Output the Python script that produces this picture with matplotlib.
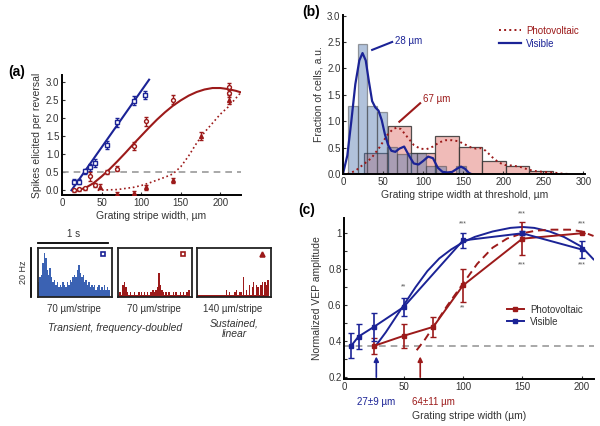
import numpy as np
import matplotlib
matplotlib.use("Agg")
import matplotlib.pyplot as plt
from matplotlib.lines import Line2D

plt.rcParams['font.family'] = ['Liberation Sans', 'DejaVu Sans']
plt.rcParams['font.size'] = 7
plt.rcParams['text.color'] = '#333333'
plt.rcParams['axes.labelcolor'] = '#333333'
plt.rcParams['xtick.color'] = '#333333'
plt.rcParams['ytick.color'] = '#333333'

AZUL = '#1b2396'
ROJO = '#9c1a1a'
GRIS = '#999999'

# ---------- datos panel (a) ----------
vis_x = [15, 21.5, 28.7, 35.4, 41.8, 56.5, 70, 91, 105]
vis_y = [0.24, 0.24, 0.52, 0.63, 0.75, 1.25, 1.87, 2.47, 2.63]
vis_err = [0.08, 0.08, 0.08, 0.1, 0.1, 0.1, 0.12, 0.12, 0.12]

pv_x = [15, 22, 29, 35.4, 41.8, 56.5, 70, 91, 106, 140, 211, 211]
pv_y = [0.0, 0.03, 0.05, 0.38, 0.15, 0.5, 0.6, 1.22, 1.9, 2.5, 2.68, 2.86]
pv_err = [0.04, 0.04, 0.05, 0.12, 0.06, 0.06, 0.08, 0.1, 0.12, 0.12, 0.12, 0.1]

sus_x = [48, 70, 91, 106, 140, 176, 211]
sus_y = [0.1, -0.1, -0.08, 0.08, 0.27, 1.5, 2.5]
sus_err = [0.06, 0.05, 0.05, 0.06, 0.08, 0.12, 0.12]

fit_vis_x = [12, 110]
fit_vis_y = [0.0, 3.05]
fit_pv_x = [20, 30, 40, 50, 60, 70, 80, 90, 100, 110, 120, 130, 140, 150, 160,
            170, 180, 190, 200, 210, 220, 226]
fit_pv_y = [0, 0.07, 0.2, 0.38, 0.58, 0.8, 1.03, 1.27, 1.5, 1.73, 1.95, 2.15,
            2.33, 2.48, 2.61, 2.71, 2.78, 2.82, 2.82, 2.79, 2.74, 2.7]
fit_sus_x = [45, 70, 90, 100, 110, 120, 130, 140, 150, 160, 170, 180, 190, 200,
             210, 220, 226]
fit_sus_y = [0, 0.02, 0.08, 0.13, 0.2, 0.28, 0.36, 0.45, 0.65, 0.95, 1.3, 1.6,
             1.85, 2.1, 2.3, 2.55, 2.7]

# PSTH (Hz), bins de 20 ms
psth_azul = [6, 8, 9, 14, 18, 16, 11, 9, 12, 8, 6, 7, 5, 6, 4, 5, 4, 6, 5, 4,
             6, 5, 7, 6, 8, 9, 8, 11, 13, 10, 8, 9, 6, 7, 5, 6, 4, 5, 4, 5,
             3, 4, 5, 3, 4, 3, 5, 3, 4, 3]
psth_rojo = [1, 2, 1, 5, 6, 4, 2, 1, 2, 1, 1, 2, 1, 1, 2, 1, 2, 1, 2, 1,
             2, 1, 2, 2, 3, 2, 3, 4, 10, 5, 3, 2, 1, 2, 1, 2, 1, 1, 2, 1,
             2, 1, 1, 2, 1, 2, 1, 2, 2, 3]
psth_sost = [3, 1, 1, 1, 1, 1, 1, 1, 1, 1, 1, 1, 1, 1, 1, 1, 1, 1, 1, 1,
             3, 1, 2, 1, 1, 1, 2, 3, 1, 2, 2, 1, 8, 1, 3, 1, 5, 1, 4, 6,
             1, 5, 4, 1, 5, 6, 1, 6, 5, 7]

# ---------- datos panel (b) ----------
hist_vis_izq = 5.5
hist_vis_ancho = 12.3
hist_vis = [1.29, 2.47, 1.29, 1.18, 0.52, 0.38, 0.4, 0.4, 0.15, 0.15, 0.0, 0.15]
hist_pv_izq = 26
hist_pv_ancho = 29.5
hist_pv = [0.4, 0.91, 0.4, 0.72, 0.51, 0.24, 0.15, 0.06]

kde_vis_x = [0, 5, 10, 15, 20, 24, 28, 32, 36, 40, 44, 48, 52, 56, 60, 65, 70,
             76, 82, 88, 94, 100, 106, 112, 118, 124, 130, 136, 142, 147, 152,
             157, 160]
kde_vis_y = [0.03, 0.35, 1.0, 1.7, 2.15, 2.29, 2.15, 1.75, 1.38, 1.26, 1.2,
             1.02, 0.75, 0.55, 0.44, 0.42, 0.48, 0.52, 0.35, 0.2, 0.18, 0.25,
             0.33, 0.3, 0.12, 0.04, 0.03, 0.04, 0.1, 0.14, 0.1, 0.02, 0.0]
kde_pv_x = [5, 15, 25, 35, 45, 55, 62, 67, 72, 80, 88, 96, 104, 112, 120, 128,
            136, 144, 152, 160, 166, 172, 178, 186, 194, 202, 212, 222, 232,
            242, 252, 262, 272, 282]
kde_pv_y = [0, 0.06, 0.18, 0.3, 0.5, 0.74, 0.85, 0.88, 0.85, 0.7, 0.55, 0.48,
            0.47, 0.52, 0.6, 0.64, 0.64, 0.62, 0.56, 0.5, 0.48, 0.49, 0.44,
            0.32, 0.22, 0.17, 0.16, 0.13, 0.08, 0.05, 0.04, 0.03, 0.01, 0]

# ---------- datos panel (c) ----------
vep_vis_x = [6, 12, 25, 50, 100, 150, 200]
vep_vis_y = [0.376, 0.426, 0.48, 0.59, 0.96, 1.0, 0.91]
vep_vis_err = [0.07, 0.07, 0.076, 0.05, 0.04, 0.01, 0.045]
vep_pv_x = [25, 50, 75, 100, 150, 200]
vep_pv_y = [0.374, 0.43, 0.48, 0.71, 0.97, 1.0]
vep_pv_err = [0.045, 0.065, 0.055, 0.09, 0.09, 0.0]

vep_fit_vis_x = [26, 35, 45, 50, 60, 70, 80, 90, 100, 110, 125, 140, 150, 160,
                 173, 185, 200, 210]
vep_fit_vis_y = [0.37, 0.45, 0.55, 0.6, 0.7, 0.79, 0.86, 0.91, 0.95, 0.98,
                 1.01, 1.03, 1.035, 1.03, 1.01, 0.98, 0.925, 0.855]
vep_fit_pv_x = [61, 68, 75, 87, 100, 112, 125, 137, 150, 162, 175, 190, 200, 210]
vep_fit_pv_y = [0.35, 0.41, 0.48, 0.6, 0.72, 0.83, 0.92, 0.97, 1.0, 1.015,
                1.02, 1.02, 1.01, 0.985]
umbral_vep = 0.374
umbral_vis = 27
umbral_pv = 64


def estilo(ax):
    for s in ['top', 'right']:
        ax.spines[s].set_visible(False)
    for s in ['left', 'bottom']:
        ax.spines[s].set_linewidth(1.4)
        ax.spines[s].set_color('black')
    ax.tick_params(direction='in', length=2.5, width=0.8, labelsize=7, pad=2)


fig = plt.figure(figsize=(6, 4.26), dpi=100)

# ===== (a) curvas =====
ax_a = fig.add_axes([0.1033, 0.5423, 0.2983, 0.2817])
estilo(ax_a)
ax_a.axhline(0.5, color=GRIS, lw=1.2, ls=(0, (4, 3)))
ax_a.plot(fit_vis_x, fit_vis_y, color=AZUL, lw=1.5)
ax_a.plot(fit_pv_x, fit_pv_y, color=ROJO, lw=1.5)
ax_a.plot(fit_sus_x, fit_sus_y, color=ROJO, lw=1.2, ls=':')
ax_a.errorbar(vis_x, vis_y, yerr=vis_err, fmt='s', ms=2.8, mfc='white', mec=AZUL,
              mew=1.0, ecolor=AZUL, elinewidth=1.0, capsize=1.2, zorder=3)
ax_a.errorbar(pv_x, pv_y, yerr=pv_err, fmt='o', ms=2.8, mfc='white', mec=ROJO,
              mew=1.0, ecolor=ROJO, elinewidth=1.0, capsize=1.2, zorder=3)
ax_a.errorbar(sus_x, sus_y, yerr=sus_err, fmt='^', ms=2.8, mfc=ROJO, mec=ROJO,
              mew=1.0, ecolor=ROJO, elinewidth=1.0, capsize=1.2, zorder=3)
ax_a.set_xlim(0, 226)
ax_a.set_ylim(-0.13, 3.18)
ax_a.set_xticks([0, 50, 100, 150, 200])
ax_a.set_yticks(np.arange(0, 3.01, 0.5))
ax_a.set_yticklabels([f"{v:.1f}" for v in np.arange(0, 3.01, 0.5)])
ax_a.set_xlabel("Grating stripe width, µm", fontsize=7.5, labelpad=2)
ax_a.set_ylabel("Spikes elicited per reversal", fontsize=7.5, labelpad=3)

# ===== (a) PSTH =====
t = np.arange(len(psth_azul)) * 0.02
cajas = [
    (0.0633, psth_azul, '#3b62b3', 's', 'white', AZUL, "70 µm/stripe"),
    (0.1967, psth_rojo, ROJO, 's', 'white', ROJO, "70 µm/stripe"),
    (0.3283, psth_sost, ROJO, '^', ROJO, ROJO, "140 µm/stripe"),
]
for i, (x0, datos, col, mk, mfc, mec, etiqueta) in enumerate(cajas):
    axp = fig.add_axes([x0, 0.3028, 0.1233, 0.115])
    axp.bar(t, datos, width=0.02, align='edge', color=col, lw=0)
    axp.set_xlim(0, 1.03)
    axp.set_ylim(0, 20)
    axp.set_xticks([])
    axp.set_yticks([])
    for s in axp.spines.values():
        s.set_linewidth(1.3)
        s.set_color('#222222')
    axp.plot([0.91], [17.4], marker=mk, ms=3.5, mfc=mfc, mec=mec, mew=1.2)
    axp.text(0.5, -2.8, etiqueta, ha='center', va='top', fontsize=7)
    if i == 0:
        axp.plot([0, 0.98], [22, 22], color='black', lw=1.3, clip_on=False)
        axp.text(0.49, 23.5, "1 s", ha='center', va='bottom', fontsize=7)
        axp.plot([-0.097, -0.097], [0, 20], color='black', lw=1.3, clip_on=False)
        axp.text(-0.2, 10, "20 Hz", rotation=90, ha='center', va='center',
                 fontsize=6.5)

fig.text(115 / 600, 1 - 328 / 426, "Transient, frequency-doubled",
         ha='center', va='center', style='italic', fontsize=7.5)
fig.text(234 / 600, 1 - 329 / 426, "Sustained,\nlinear", ha='center',
         va='center', style='italic', fontsize=7.5, linespacing=1.1)

# ===== (b) =====
ax_b = fig.add_axes([0.5722, 0.5915, 0.4028, 0.3732])
estilo(ax_b)
izq_pv = hist_pv_izq + hist_pv_ancho * np.arange(len(hist_pv))
izq_vis = hist_vis_izq + hist_vis_ancho * np.arange(len(hist_vis))
ax_b.bar(izq_pv, hist_pv, width=hist_pv_ancho, align='edge', color='#eeb0ac',
         alpha=0.85, edgecolor='#333333', lw=0.9)
ax_b.bar(izq_vis, hist_vis, width=hist_vis_ancho, align='edge', color='#5379b1',
         alpha=0.45, edgecolor='#333333', lw=0.9)
ax_b.plot(kde_pv_x, kde_pv_y, color=ROJO, lw=1.4, ls=':', label="Photovoltaic")
ax_b.plot(kde_vis_x, kde_vis_y, color=AZUL, lw=1.6, label="Visible")
ax_b.plot([36, 61], [2.35, 2.5], color=AZUL, lw=1.5)
ax_b.text(65, 2.52, "28 µm", color=AZUL, fontsize=7, va='center')
ax_b.plot([70, 96], [0.99, 1.34], color=ROJO, lw=1.5)
ax_b.text(100, 1.42, "67 µm", color=ROJO, fontsize=7, va='center')
ax_b.set_xlim(0, 302)
ax_b.set_ylim(0, 3.01)
ax_b.set_xticks(np.arange(0, 301, 50))
ax_b.set_yticks(np.arange(0, 3.01, 0.5))
ax_b.set_yticklabels([f"{v:.1f}" for v in np.arange(0, 3.01, 0.5)])
ax_b.set_xlabel("Grating stripe width at threshold, µm", fontsize=7.5, labelpad=2)
ax_b.set_ylabel("Fraction of cells, a.u.", fontsize=7.5, labelpad=3)
leg_b = ax_b.legend(loc='upper right', bbox_to_anchor=(1.0, 0.97), frameon=False,
                    fontsize=7, handlelength=2.2, handletextpad=0.6,
                    labelspacing=0.3, borderaxespad=0.2)
for txt, c in zip(leg_b.get_texts(), [ROJO, AZUL]):
    txt.set_color(c)

# ===== (c) =====
ax_c = fig.add_axes([0.5738, 0.1103, 0.4162, 0.378])
estilo(ax_c)
ax_c.plot([0, 210], [umbral_vep, umbral_vep], color=GRIS, lw=1.2,
          ls=(0, (4, 3)))
ax_c.plot(vep_fit_vis_x, vep_fit_vis_y, color=AZUL, lw=1.4)
ax_c.plot(vep_fit_pv_x, vep_fit_pv_y, color=ROJO, lw=1.4, ls=(0, (4, 2.5)))
ax_c.errorbar(vep_pv_x, vep_pv_y, yerr=vep_pv_err, color=ROJO, lw=1.4,
              marker='s', ms=2.5, ecolor=ROJO, elinewidth=1.2, capsize=2.2,
              label="Photovoltaic")
ax_c.errorbar(vep_vis_x, vep_vis_y, yerr=vep_vis_err, color=AZUL, lw=1.4,
              marker='s', ms=2.5, ecolor=AZUL, elinewidth=1.2, capsize=2.2,
              label="Visible")
ax_c.annotate("", xy=(umbral_vis, 0.315), xytext=(umbral_vis, 0.2),
              arrowprops=dict(arrowstyle='-|>', color=AZUL, lw=1.2,
                              mutation_scale=7, shrinkA=0, shrinkB=0))
ax_c.annotate("", xy=(umbral_pv, 0.315), xytext=(umbral_pv, 0.2),
              arrowprops=dict(arrowstyle='-|>', color=ROJO, lw=1.2,
                              mutation_scale=7, shrinkA=0, shrinkB=0))
ax_c.text(27, 0.064, "27±9 µm", color=AZUL, ha='center', va='center',
          fontsize=7, clip_on=False)
ax_c.text(75, 0.064, "64±11 µm", color=ROJO, ha='center', va='center',
          fontsize=7, clip_on=False)
for xx, yy, s in [(50, 0.70, "**"), (100, 1.05, "***"), (150, 1.107, "***"),
                  (200, 1.05, "***"), (100, 0.585, "**"), (150, 0.824, "***"),
                  (200, 0.824, "***")]:
    ax_c.text(xx, yy, s, ha='center', va='center', fontsize=5, color='#555555',
              clip_on=False)
ax_c.set_xlim(0, 210.4)
ax_c.set_ylim(0.19, 1.085)
ax_c.set_xticks([0, 50, 100, 150, 200])
ax_c.set_yticks([0.2, 0.4, 0.6, 0.8, 1.0])
ax_c.set_yticklabels(["0.2", "0.4", "0.6", "0.8", "1"])
ax_c.set_yticks(np.arange(0.3, 1.01, 0.2), minor=True)
ax_c.tick_params(which='minor', direction='in', length=2, width=0.8)
ax_c.set_xlabel("Grating stripe width (µm)", fontsize=7.5, labelpad=14)
ax_c.set_ylabel("Normalized VEP amplitude", fontsize=7.5, labelpad=4)
manejadores = [Line2D([], [], color=ROJO, lw=1.4, marker='s', ms=2.5),
               Line2D([], [], color=AZUL, lw=1.4, marker='s', ms=2.5)]
ax_c.legend(manejadores, ["Photovoltaic", "Visible"], loc='lower right',
            bbox_to_anchor=(0.99, 0.27), frameon=False, fontsize=7,
            handlelength=1.8, handletextpad=0.6, labelspacing=0.2)

fig.text(0.013, 0.831, "(a)", fontsize=10, fontweight='bold', color='black',
         va='center')
fig.text(0.503, 0.972, "(b)", fontsize=10, fontweight='bold', color='black',
         va='center')
fig.text(0.497, 0.507, "(c)", fontsize=10, fontweight='bold', color='black',
         va='center')

fig.savefig("out.png", dpi=100)
